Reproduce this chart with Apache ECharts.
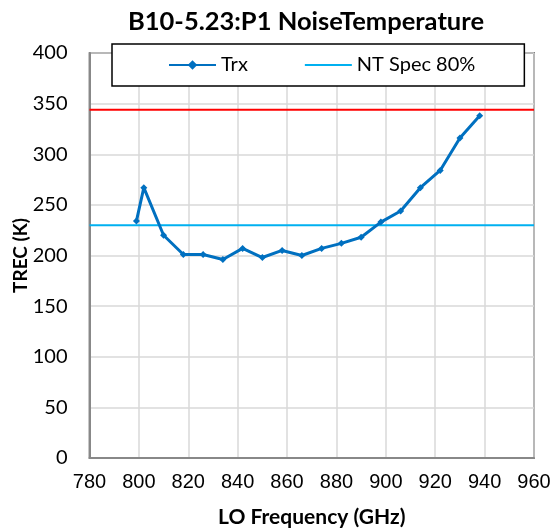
<!DOCTYPE html>
<html>
<head>
<meta charset="utf-8">
<script src="https://cdn.jsdelivr.net/npm/echarts@6/dist/echarts.min.js"></script>
<style>
  html, body { margin: 0; padding: 0; background: #fff; }
  #chart { width: 554px; height: 531px; }
</style>
</head>
<body>
<div id="chart"></div>
<script>
// LO frequency (GHz) and measured receiver temperature (K)
const freqs = [799, 802, 810, 818, 826, 834, 842, 850, 858, 866, 874, 882, 890, 898, 906, 914, 922, 930, 938]
const trx = [234, 267, 220, 201, 201, 196, 207, 198, 205, 200, 207, 212, 218, 233, 244, 267, 284, 316, 338]
// horizontal spec lines
const specRange = [780, 960]
const ntSpec80 = 230
const ntSpec = 344

const chart = echarts.init(document.getElementById('chart'))

const option = {
    animation: false,
    backgroundColor: '#fff',
    title: {
        text: 'B10-5.23:P1 NoiseTemperature',
        left: 301,
        textAlign: 'center',
        top: 4,
        textStyle: { fontFamily: 'Lato', fontWeight: 'bold', fontSize: 25.5, color: '#000' }
    },
    legend: {
        data: ['Trx', { name: 'NT Spec 80%', itemStyle: { opacity: 0 } }],
        left: 112,
        top: 44,
        padding: [11, 49, 11, 56],
        itemGap: 56,
        itemWidth: 47,
        itemHeight: 12,
        borderColor: '#000',
        borderWidth: 1.5,
        backgroundColor: '#fff',
        textStyle: { fontFamily: 'Lato', fontSize: 20, color: '#000' }
    },
    grid: {
        left: 89.5,
        right: 20,
        top: 53,
        bottom: 73,
        outerBoundsMode: 'none',
        containLabel: false,
        show: true,
        borderColor: '#222',
        borderWidth: 1.5
    },
    xAxis: {
        type: 'value',
        min: 780,
        max: 960,
        interval: 20,
        name: 'LO Frequency (GHz)',
        nameLocation: 'middle',
        nameGap: 49,
        nameMoveOverlap: false,
        nameTextStyle: { fontFamily: 'Lato', fontWeight: 'bold', fontSize: 21, color: '#000' },
        axisLine: { lineStyle: { color: '#888', width: 2 } },
        axisTick: { show: false },
        axisLabel: { fontFamily: 'Liberation Sans', fontSize: 20, color: '#000', margin: 14 },
        splitLine: { lineStyle: { color: '#d9d9d9', width: 1.5 } }
    },
    yAxis: {
        type: 'value',
        min: 0,
        max: 400,
        interval: 50,
        name: 'TREC (K)',
        nameLocation: 'middle',
        nameGap: 59,
        nameMoveOverlap: false,
        nameTextStyle: { fontFamily: 'Lato', fontWeight: 'bold', fontSize: 19, color: '#000' },
        axisLine: { show: true, lineStyle: { color: '#888', width: 2 } },
        axisTick: { show: false },
        axisLabel: { fontFamily: 'Lato', fontSize: 20, color: '#000', margin: 22 },
        splitLine: { lineStyle: { color: '#d9d9d9', width: 1.5 } }
    },
    series: [
        {
            name: 'Trx',
            type: 'line',
            data: freqs.map((f, i) => [f, trx[i]]),
            symbol: 'diamond',
            symbolSize: 7,
            lineStyle: { color: '#0070C0', width: 3 },
            itemStyle: { color: '#0070C0' },
            z: 5
        },
        {
            name: 'NT Spec 80%',
            type: 'line',
            data: specRange.map(f => [f, ntSpec80]),
            symbol: 'none',
            lineStyle: { color: '#00B0F0', width: 2 },
            itemStyle: { color: '#00B0F0' }
        },
        {
            name: 'NT Spec',
            type: 'line',
            data: specRange.map(f => [f, ntSpec]),
            symbol: 'none',
            lineStyle: { color: '#FF0000', width: 2 },
            itemStyle: { color: '#FF0000' }
        }
    ]
}

chart.setOption(option)
</script>
</body>
</html>
